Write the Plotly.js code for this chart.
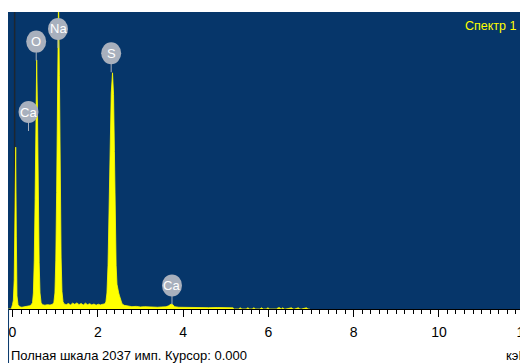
<!DOCTYPE html>
<html>
<head>
<meta charset="utf-8">
<script src="https://cdn.plot.ly/plotly-3.0.1.min.js"></script>
<style>
html,body{margin:0;padding:0;overflow:hidden;background:#fff;width:520px;height:363px;}
#chart{width:540px;height:363px;}
</style>
</head>
<body>
<div id="chart"></div>
<script>
// Spectrum: energy (keV) and counts
const energy = [-0.10,-0.03,0.00,0.02,0.04,0.06,0.075,0.09,0.105,0.13,0.17,0.22,0.28,0.34,0.40,0.44,0.47,0.49,0.51,0.53,0.55,0.567,0.585,0.605,0.625,0.645,0.67,0.70,0.76,0.82,0.88,0.94,0.97,0.995,1.015,1.035,1.055,1.08,1.10,1.12,1.14,1.16,1.185,1.21,1.26,1.31,1.36,1.41,1.46,1.51,1.56,1.61,1.66,1.71,1.76,1.81,1.86,1.91,1.96,2.01,2.06,2.11,2.16,2.19,2.215,2.24,2.265,2.29,2.315,2.345,2.37,2.39,2.41,2.43,2.45,2.47,2.49,2.51,2.54,2.57,2.62,2.70,2.80,2.90,3.00,3.10,3.20,3.30,3.40,3.50,3.60,3.66,3.72,3.76,3.80,3.90,4.00,4.20,4.40,4.60,4.80,5.00,5.17,5.20,5.30,5.34,5.38,5.48,5.52,5.56,5.62,5.66,5.70,5.80,5.84,5.88,5.95,5.99,6.03,6.19,6.23,6.27,6.30,6.34,6.37,6.41,6.54,6.58,6.62,6.70,6.74,6.78,6.89,6.93,6.97,7.05];
const counts = [0,0,30,60,200,700,1110,500,90,30,15,12,14,18,22,28,45,110,330,750,1380,1708,1380,720,320,110,45,30,26,30,27,32,45,110,330,800,1550,2150,1600,850,350,120,50,35,30,38,28,40,32,42,30,38,27,40,30,36,28,34,26,33,28,32,35,48,110,300,700,1150,1480,1620,1470,1080,620,300,170,125,110,90,55,35,25,20,16,18,14,16,13,15,12,14,15,22,34,30,16,12,11,10,11,9,10,8,8,0,0,8,0,0,8,0,0,8,0,0,8,0,0,8,0,0,8,8,0,8,0,0,8,0,0,8,0,0,8,0,0];

// Element labels
const labelText = ["Ca","O","Na","S","Ca"];
const labelE = [0.375,0.556,1.067,2.314,3.74];
const labelC = [1351,1834,1921,1754,162];

const cursorE = 0.05;
const xTickVals = [0,2,4,6,8,10,12];
const fullScale = 2037;

const FONT = 'Liberation Sans, Arial, sans-serif';
const shapes = [];
// cursor line
shapes.push({type:'line', layer:'below', xref:'x', yref:'paper', x0:cursorE, x1:cursorE, y0:0, y1:1,
  line:{color:'#1d2630', width:1.5}});
// left border line of panel below plot
shapes.push({type:'line', xref:'paper', yref:'paper', x0:0.001, x1:0.001, y0:0, y1:-0.3,
  line:{color:'#06366A', width:1}});
for (let i=0;i<labelText.length;i++){
  shapes.push({type:'line', xref:'x', yref:'y', xsizemode:'pixel', ysizemode:'pixel',
    xanchor:labelE[i], yanchor:labelC[i], x0:0, x1:0, y0:-10, y1:-19,
    line:{color:'#A8B0BD', width:1}});
  shapes.push({type:'circle', xref:'x', yref:'y', xsizemode:'pixel', ysizemode:'pixel',
    xanchor:labelE[i], yanchor:labelC[i], x0:-10, x1:10, y0:-11, y1:11,
    fillcolor:'#A8B0BD', line:{width:0}});
}
const annotations = labelText.map((t,i)=>({x:labelE[i], y:labelC[i], xref:'x', yref:'y', text:t, showarrow:false,
  font:{family:FONT, size:13, color:'#ffffff'},
  xanchor:'center', yanchor:'middle'}));
annotations.push({xref:'paper', yref:'paper', x:0.9605, y:0.953, xanchor:'right', yanchor:'middle', showarrow:false,
  text:'Спектр 1', font:{family:FONT, size:12.5, color:'#FFFF00'}});
annotations.push({xref:'paper', yref:'paper', x:0.001, y:-0.155, xanchor:'left', yanchor:'middle', showarrow:false,
  text:'Полная шкала ' + fullScale + ' имп. Курсор: 0.000', font:{family:FONT, size:13, color:'#000'}});
annotations.push({xref:'paper', yref:'paper', x:0.932, y:-0.155, xanchor:'left', yanchor:'middle', showarrow:false,
  text:'кэВ', font:{family:FONT, size:13, color:'#000'}});

const trace = {x:energy, y:counts, type:'scatter', mode:'lines', fill:'tozeroy',
  fillcolor:'#FFFF00', line:{color:'#FFFF00', width:0.8}, hoverinfo:'skip'};

const layout = {
  width:540, height:363,
  margin:{l:8, r:0, t:12, b:54},
  paper_bgcolor:'#ffffff', plot_bgcolor:'#06366A',
  showlegend:false,
  xaxis:{range:[-0.1055,12.37], tickvals:xTickVals, ticktext:xTickVals.map(String),
    ticks:'outside', ticklen:7, tickcolor:'#000', tickwidth:1, ticklabelstandoff:3,
    minor:{dtick:0.2, ticks:'outside', ticklen:4, tickcolor:'#000', tickwidth:1, showgrid:false},
    showline:true, linecolor:'#000', linewidth:1, showgrid:false, zeroline:false,
    tickfont:{family:FONT, size:14, color:'#000'}},
  yaxis:{range:[0,fullScale], visible:false, showgrid:false, zeroline:false, fixedrange:true},
  shapes:shapes, annotations:annotations
};
Plotly.newPlot('chart',[trace],layout,{displayModeBar:false, staticPlot:true});
</script>
</body>
</html>
